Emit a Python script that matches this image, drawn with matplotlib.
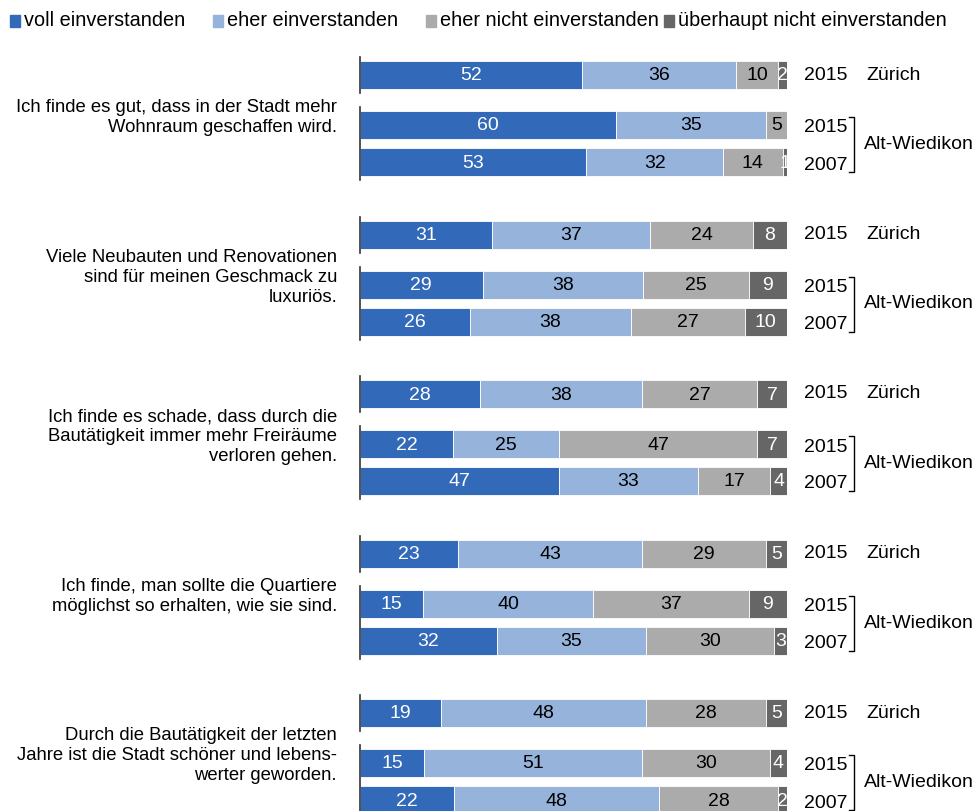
import matplotlib
matplotlib.use("Agg")
import matplotlib.pyplot as plt
from matplotlib.patches import Rectangle
import numpy as np

plt.rcParams['font.family'] = ['Liberation Sans', 'DejaVu Sans']

categories = ["voll einverstanden", "eher einverstanden",
              "eher nicht einverstanden", "überhaupt nicht einverstanden"]
colors = ["#3269b8", "#95b3db", "#ababab", "#666666"]
text_colors = ["white", "black", "black", "white"]

statements = [
    "Ich finde es gut, dass in der Stadt mehr\nWohnraum geschaffen wird.",
    "Viele Neubauten und Renovationen\nsind für meinen Geschmack zu\nluxuriös.",
    "Ich finde es schade, dass durch die\nBautätigkeit immer mehr Freiräume\nverloren gehen.",
    "Ich finde, man sollte die Quartiere\nmöglichst so erhalten, wie sie sind.",
    "Durch die Bautätigkeit der letzten\nJahre ist die Stadt schöner und lebens-\nwerter geworden.",
]
row_years = ["2015", "2015", "2007"]
row_places = ["Zürich", "Alt-Wiedikon"]

# per statement: Zürich 2015, Alt-Wiedikon 2015, Alt-Wiedikon 2007
values = [
    [[52, 36, 10, 2], [60, 35, 5, 0], [53, 32, 14, 1]],
    [[31, 37, 24, 8], [29, 38, 25, 9], [26, 38, 27, 10]],
    [[28, 38, 27, 7], [22, 25, 47, 7], [47, 33, 17, 4]],
    [[23, 43, 29, 5], [15, 40, 37, 9], [32, 35, 30, 3]],
    [[19, 48, 28, 5], [15, 51, 30, 4], [22, 48, 28, 2]],
]

W, H = 975, 811
fig = plt.figure(figsize=(9.75, 8.11), dpi=100)
x0, x1 = 360, 787
ax = fig.add_axes([x0 / W, 0, (x1 - x0) / W, 1])
ax.set_xlim(0, 100)
ax.set_ylim(H, 0)
ax.axis("off")

px = 100 / (x1 - x0)  # data units per pixel in x
fs = 14
bar_h = 28
offsets = [0, 50, 87]

for g, grp in enumerate(values):
    base = 75 + 159.5 * g
    ys = [base + o for o in offsets]
    for r, row in enumerate(grp):
        row = np.array(row, dtype=float)
        widths = row / row.sum() * 100
        lefts = np.concatenate([[0], np.cumsum(widths)[:-1]])
        for k in range(4):
            if row[k] == 0:
                continue
            ax.barh(ys[r], widths[k], left=lefts[k], height=bar_h,
                    color=colors[k], edgecolor="white", linewidth=0.6)
            ax.text(lefts[k] + widths[k] / 2, ys[r] + 1, f"{int(row[k])}",
                    ha="center", va="center", fontsize=fs, color=text_colors[k])
        ax.text(100 + 17 * px, ys[r] + (0 if r == 0 else 3), row_years[r],
                ha="left", va="center", fontsize=fs, clip_on=False)
    # axis segments
    ax.plot([0, 0], [ys[0] - 18, ys[0] + 18], color="#333333", lw=1.2,
            clip_on=False)
    ax.plot([0, 0], [ys[1] - 18, ys[2] + 18], color="#333333", lw=1.2,
            clip_on=False)
    # place labels
    ax.text(100 + 79 * px, ys[0], row_places[0], ha="left", va="center",
            fontsize=fs, clip_on=False)
    bx = 100 + 67 * px
    ax.plot([bx - 5 * px, bx, bx, bx - 5 * px],
            [ys[1] - 8, ys[1] - 8, ys[2] + 10, ys[2] + 10],
            color="black", lw=1, clip_on=False)
    ax.text(100 + 77 * px, (ys[1] + ys[2]) / 2 + 1, row_places[1], ha="left",
            va="center", fontsize=fs, clip_on=False)
    # statement
    ax.text(-23 * px, np.mean(ys) - 3, statements[g], ha="right", va="center",
            fontsize=13.3, linespacing=1.22, clip_on=False)

# legend
leg_x = [10, 213, 426, 664]
for k in range(4):
    fig.patches.append(Rectangle((leg_x[k] / W, 1 - 27 / H), 10 / W, 12 / H,
                                 transform=fig.transFigure,
                                 color=colors[k]))
    fig.text((leg_x[k] + 14) / W, 1 - 21 / H, categories[k], ha="left",
             va="center", fontsize=14.3)

fig.savefig("out.png", dpi=100)
